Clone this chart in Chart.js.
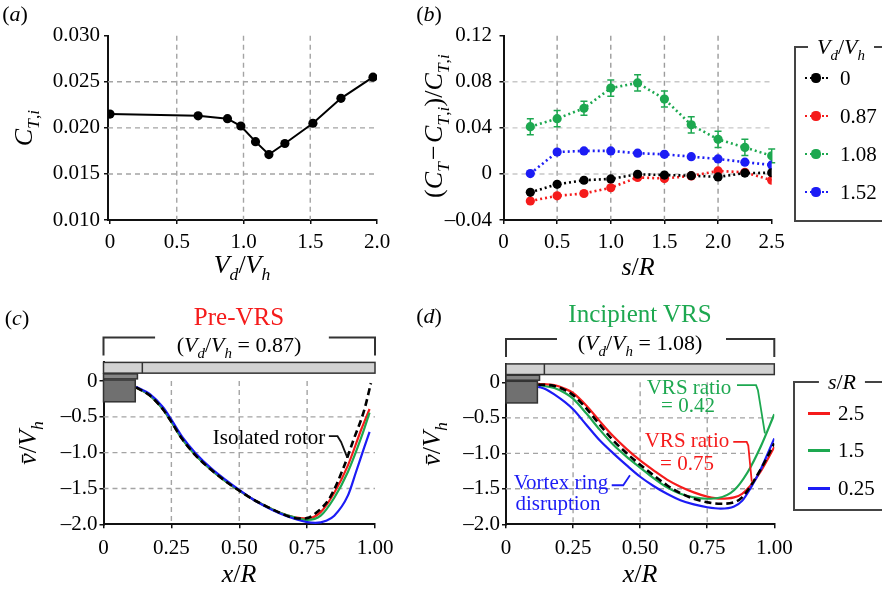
<!DOCTYPE html>
<html><head><meta charset="utf-8">
<script src="https://cdn.jsdelivr.net/npm/chart.js@4.4.1/dist/chart.umd.min.js"></script>
<style>
html,body{margin:0;padding:0;background:#fff;width:882px;height:591px;overflow:hidden;}
body{position:relative;font-family:"Liberation Serif","Times New Roman",serif;color:#000;}
canvas{position:absolute;left:0;top:0;}
.t{position:absolute;white-space:nowrap;transform:translate(-50%,-50%);line-height:1;}
.rot{transform:translate(-50%,-50%) rotate(-90deg);}
.l{position:absolute;white-space:nowrap;transform:translate(0,-50%);line-height:1;}
i{font-style:italic}
sub{font-size:0.68em;vertical-align:-0.38em;line-height:0}
.box{position:absolute;border:2px solid #444;border-right:none;width:200px;}
.lt{position:absolute;transform:translate(-50%,-50%);background:#fff;padding:0 9px;line-height:1;white-space:nowrap;}
</style></head>
<body>
<canvas id="ca" width="882" height="591"></canvas>
<canvas id="cb" width="882" height="591"></canvas>
<canvas id="cc" width="882" height="591"></canvas>
<canvas id="cd" width="882" height="591"></canvas>

<!-- panel labels -->
<div class="t" style="left:15px;top:14px;font-size:22px">(<i>a</i>)</div>
<div class="t" style="left:429px;top:14px;font-size:22px">(<i>b</i>)</div>
<div class="t" style="left:17px;top:318px;font-size:22px">(<i>c</i>)</div>
<div class="t" style="left:429px;top:316px;font-size:22px">(<i>d</i>)</div>

<!-- axis titles -->
<div class="t rot" style="left:24px;top:128px;font-size:26px"><i>C</i><sub><i>T</i>,<i>i</i></sub></div>
<div class="t" style="left:242px;top:265px;font-size:26px"><i>V</i><sub><i>d</i></sub>/<i>V</i><sub><i>h</i></sub></div>
<div class="t rot" style="left:434px;top:126px;font-size:26px">(<i>C</i><sub><i>T</i></sub>&#8202;&#8722;&#8202;<i>C</i><sub><i>T</i>,<i>i</i></sub>)/<i>C</i><sub><i>T</i>,<i>i</i></sub></div>
<div class="t" style="left:638px;top:267px;font-size:26px"><i>s</i>/<i>R</i></div>
<div class="t rot" style="left:28px;top:443px;font-size:26px"><i>v&#772;</i>/<i>V</i><sub><i>h</i></sub></div>
<div class="t" style="left:239px;top:574px;font-size:26px"><i>x</i>/<i>R</i></div>
<div class="t rot" style="left:432px;top:444px;font-size:26px"><i>v&#772;</i>/<i>V</i><sub><i>h</i></sub></div>
<div class="t" style="left:640px;top:574px;font-size:26px"><i>x</i>/<i>R</i></div>

<!-- panel headings -->
<div class="t" style="left:239px;top:316px;font-size:25px;color:#f51b1b">Pre-VRS</div>
<div class="t" style="left:239px;top:345px;font-size:22px">(<i>V</i><sub><i>d</i></sub>/<i>V</i><sub><i>h</i></sub> = 0.87)</div>
<div class="t" style="left:640px;top:313px;font-size:25px;color:#1da850">Incipient VRS</div>
<div class="t" style="left:640px;top:343px;font-size:22px">(<i>V</i><sub><i>d</i></sub>/<i>V</i><sub><i>h</i></sub> = 1.08)</div>

<!-- annotations -->
<div class="t" style="left:269px;top:437px;font-size:21px">Isolated rotor</div>
<div class="t" style="left:689px;top:387px;font-size:21px;color:#1da850">VRS ratio</div>
<div class="t" style="left:688px;top:405px;font-size:21px;color:#1da850">= 0.42</div>
<div class="t" style="left:687px;top:440px;font-size:21px;color:#f51b1b">VRS ratio</div>
<div class="t" style="left:687px;top:463px;font-size:21px;color:#f51b1b">= 0.75</div>
<div class="t" style="left:561px;top:482px;font-size:21px;color:#1c1cf5">Vortex ring</div>
<div class="t" style="left:558px;top:503px;font-size:21px;color:#1c1cf5">disruption</div>

<!-- legend b -->
<div class="box" style="left:794px;top:46px;height:172px"></div>
<div class="lt" style="left:841px;top:47px;font-size:22px"><i>V</i><sub><i>d</i></sub>/<i>V</i><sub><i>h</i></sub></div>
<div id="legB"></div>
<!-- legend d -->
<div class="box" style="left:793px;top:381px;height:126px"></div>
<div class="lt" style="left:842px;top:382px;font-size:22px"><i>s</i>/<i>R</i></div>
<div id="legD"></div>

<script>
// ---------------- data ----------------
// (a) isolated-rotor thrust coefficient vs descent ratio
const aSpeedRatio = [0, 0.66, 0.88, 0.98, 1.09, 1.19, 1.31, 1.52, 1.73, 1.97];
const aThrustCoef = [0.0215, 0.0213, 0.0210, 0.0202, 0.0185, 0.0171, 0.0183, 0.0205, 0.0232, 0.0255];
const aXTickVals = [0, 0.5, 1.0, 1.5, 2.0];
const aXTickLabels = ['0', '0.5', '1.0', '1.5', '2.0'];
const aYTickVals = [0.010, 0.015, 0.020, 0.025, 0.030];
const aYTickLabels = ['0.010', '0.015', '0.020', '0.025', '0.030'];

// (b) thrust change vs separation
const bSpacing = [0.25, 0.5, 0.75, 1.0, 1.25, 1.5, 1.75, 2.0, 2.25, 2.5];
const bSeriesNames = ['0', '0.87', '1.08', '1.52'];
const bRatio000 = [-0.016, -0.009, -0.0055, -0.0043, -0.0003, -0.001, -0.0015, -0.0026, 0.0007, 0.001];
const bRatio087 = [-0.0235, -0.019, -0.017, -0.012, -0.003, -0.004, -0.0017, 0.0026, 0.0014, -0.0055];
const bRatio108 = [0.041, 0.048, 0.057, 0.0745, 0.079, 0.065, 0.0426, 0.030, 0.023, 0.0157];
const bErr108   = [0.007, 0.007, 0.006, 0.007, 0.007, 0.007, 0.007, 0.007, 0.007, 0.006];
const bRatio152 = [0.0003, 0.019, 0.020, 0.020, 0.018, 0.017, 0.015, 0.013, 0.0102, 0.0078];
const bXTickVals = [0, 0.5, 1.0, 1.5, 2.0, 2.5];
const bXTickLabels = ['0', '0.5', '1.0', '1.5', '2.0', '2.5'];
const bYTickVals = [-0.04, 0, 0.04, 0.08, 0.12];
const bYTickLabels = ['\u20130.04', '0', '0.04', '0.08', '0.12'];

// (c) Pre-VRS wake velocity profiles
const cRedX   = [0.12, 0.17, 0.22, 0.25, 0.29, 0.34, 0.40, 0.45, 0.50, 0.55, 0.60, 0.65, 0.70, 0.75, 0.80, 0.85, 0.90, 0.95, 0.98];
const cRedY   = [-0.09, -0.20, -0.40, -0.57, -0.81, -1.04, -1.25, -1.40, -1.53, -1.65, -1.75, -1.84, -1.90, -1.92, -1.83, -1.56, -1.18, -0.67, -0.39];
const cGreenX = [0.12, 0.17, 0.22, 0.25, 0.29, 0.34, 0.40, 0.45, 0.50, 0.55, 0.60, 0.65, 0.70, 0.75, 0.80, 0.85, 0.90, 0.95, 0.98];
const cGreenY = [-0.09, -0.20, -0.40, -0.57, -0.81, -1.04, -1.25, -1.40, -1.53, -1.65, -1.75, -1.84, -1.90, -1.94, -1.88, -1.63, -1.27, -0.78, -0.44];
const cBlueX  = [0.12, 0.17, 0.22, 0.25, 0.29, 0.34, 0.40, 0.45, 0.50, 0.55, 0.60, 0.65, 0.70, 0.75, 0.78, 0.82, 0.85, 0.90, 0.93, 0.96, 0.98];
const cBlueY  = [-0.08, -0.18, -0.37, -0.54, -0.78, -1.01, -1.23, -1.38, -1.52, -1.65, -1.76, -1.85, -1.92, -1.97, -1.98, -1.95, -1.88, -1.60, -1.27, -0.93, -0.71];
const cIsoX   = [0.12, 0.17, 0.22, 0.25, 0.29, 0.34, 0.40, 0.45, 0.50, 0.55, 0.60, 0.65, 0.70, 0.74, 0.78, 0.835, 0.885, 0.92, 0.96, 0.985];
const cIsoY   = [-0.09, -0.20, -0.40, -0.57, -0.81, -1.04, -1.25, -1.40, -1.53, -1.65, -1.75, -1.84, -1.91, -1.92, -1.85, -1.62, -1.20, -0.83, -0.41, -0.03];

// (d) Incipient VRS wake velocity profiles
const dRedX   = [0.12, 0.18, 0.22, 0.25, 0.30, 0.35, 0.40, 0.45, 0.50, 0.55, 0.60, 0.65, 0.70, 0.75, 0.80, 0.85, 0.88, 0.91, 0.95, 1.00];
const dRedY   = [-0.02, -0.04, -0.09, -0.15, -0.33, -0.55, -0.76, -0.94, -1.10, -1.24, -1.37, -1.47, -1.55, -1.61, -1.64, -1.62, -1.57, -1.46, -1.25, -0.91];
const dIsoX   = [0.12, 0.18, 0.22, 0.25, 0.30, 0.35, 0.40, 0.45, 0.50, 0.55, 0.60, 0.65, 0.70, 0.75, 0.80, 0.85, 0.88, 0.91, 0.95, 1.00];
const dIsoY   = [-0.03, -0.05, -0.11, -0.18, -0.37, -0.60, -0.82, -1.00, -1.16, -1.31, -1.45, -1.56, -1.64, -1.69, -1.71, -1.69, -1.62, -1.47, -1.22, -0.86];
const dGreenX = [0.12, 0.18, 0.22, 0.25, 0.30, 0.35, 0.40, 0.45, 0.50, 0.55, 0.60, 0.65, 0.70, 0.75, 0.79, 0.85, 0.90, 0.95, 1.00];
const dGreenY = [-0.04, -0.08, -0.15, -0.23, -0.44, -0.67, -0.88, -1.05, -1.20, -1.35, -1.48, -1.57, -1.62, -1.64, -1.63, -1.52, -1.27, -0.90, -0.45];
const dBlueX  = [0.12, 0.15, 0.18, 0.22, 0.25, 0.30, 0.35, 0.40, 0.45, 0.50, 0.55, 0.60, 0.65, 0.70, 0.75, 0.80, 0.85, 0.88, 0.91, 0.95, 1.00];
const dBlueY  = [-0.06, -0.10, -0.17, -0.28, -0.38, -0.60, -0.82, -1.00, -1.17, -1.33, -1.46, -1.57, -1.66, -1.72, -1.76, -1.78, -1.75, -1.67, -1.50, -1.22, -0.79];
const dSeriesNames = ['2.5', '1.5', '0.25'];

const cdXTickVals = [0, 0.25, 0.5, 0.75, 1.0];
const cdXTickLabels = ['0', '0.25', '0.50', '0.75', '1.00'];
const cdYTickVals = [-2.0, -1.5, -1.0, -0.5, 0];
const cdYTickLabels = ['\u20132.0', '\u20131.5', '\u20131.0', '\u20130.5', '0'];

// ---------------- styling ----------------
const FONT = '"Liberation Serif","Times New Roman",serif';
const RED = '#f51b1b', GREEN = '#1da850', BLUE = '#1c1cf5', BLACK = '#000';
const W = 882, H = 591, YW = 60, XH = 40;
Chart.defaults.font.family = FONT;

function axis(min, max, vals, labels, isY, pad) {
  return {
    type: 'linear', min: min, max: max,
    afterBuildTicks(s) { s.ticks = vals.map(v => ({ value: v })); },
    afterFit(s) { if (isY) s.width = YW; else s.height = XH; },
    ticks: { autoSkip: false, maxRotation: 0, minRotation: 0, padding: pad, color: '#000',
             font: { family: FONT, size: 21 }, callback: (v, i) => labels[i] },
    grid: { display: true, drawOnChartArea: false, drawTicks: true, tickLength: 4, tickWidth: 1.5,
            tickColor: '#111', color: '#111', lineWidth: 1.5 },
    border: { display: true, color: '#111', width: 2 }
  };
}

function gridPlugin(xs, ys, xColor, yColor, xFromY) {
  return { id: 'dgrid', beforeDatasetsDraw(chart) {
    const { ctx, chartArea: a, scales: { x, y } } = chart;
    ctx.save(); ctx.lineWidth = 1.4; ctx.setLineDash([5, 4]);
    xs.forEach(v => { const px = x.getPixelForValue(v);
      const top = xFromY === undefined ? a.top : y.getPixelForValue(xFromY);
      ctx.strokeStyle = xColor; ctx.beginPath(); ctx.moveTo(px, top); ctx.lineTo(px, a.bottom); ctx.stroke(); });
    ys.forEach(v => { const py = y.getPixelForValue(v);
      ctx.strokeStyle = yColor; ctx.beginPath(); ctx.moveTo(a.left, py); ctx.lineTo(a.right, py); ctx.stroke(); });
    ctx.restore();
  } };
}

const errorBarPlugin = { id: 'ebars', beforeDatasetsDraw(chart) {
  const { ctx, scales: { x, y } } = chart;
  chart.data.datasets.forEach(ds => {
    if (!ds.errorBars) return;
    ctx.save(); ctx.strokeStyle = ds.borderColor; ctx.lineWidth = 1.5; ctx.setLineDash([]);
    ds.data.forEach((p, i) => {
      const e = ds.errorBars[i], px = x.getPixelForValue(p.x);
      const y1 = y.getPixelForValue(p.y + e), y2 = y.getPixelForValue(p.y - e);
      ctx.beginPath(); ctx.moveTo(px, y1); ctx.lineTo(px, y2);
      ctx.moveTo(px - 3.5, y1); ctx.lineTo(px + 3.5, y1);
      ctx.moveTo(px - 3.5, y2); ctx.lineTo(px + 3.5, y2); ctx.stroke();
    });
    ctx.restore();
  });
} };

function sketchPlugin(leaders, gapFrom, gapTo) {
  return { id: 'sketch',
    afterDatasetsDraw(chart) {
      const { ctx, chartArea: a, scales: { x, y } } = chart;
      ctx.save(); ctx.setLineDash([]);
      // rotor / hub sketch
      ctx.lineWidth = 1.5; ctx.strokeStyle = '#333';
      const x0 = a.left, x1 = a.right;
      ctx.fillStyle = '#d2d2d2';
      ctx.fillRect(x0, y.getPixelForValue(0.26), x1 - x0, y.getPixelForValue(0.11) - y.getPixelForValue(0.26));
      ctx.strokeRect(x0, y.getPixelForValue(0.26), x1 - x0, y.getPixelForValue(0.11) - y.getPixelForValue(0.26));
      ctx.beginPath(); ctx.moveTo(x.getPixelForValue(0.143), y.getPixelForValue(0.26)); ctx.lineTo(x.getPixelForValue(0.143), y.getPixelForValue(0.11)); ctx.stroke();
      ctx.fillStyle = '#858585';
      const tb = [x0, y.getPixelForValue(0.10), x.getPixelForValue(0.125) - x0, y.getPixelForValue(0.03) - y.getPixelForValue(0.10)];
      ctx.fillRect(...tb); ctx.strokeRect(...tb);
      ctx.fillStyle = '#707070';
      const bx = [x0, y.getPixelForValue(0.015), x.getPixelForValue(0.117) - x0, y.getPixelForValue(-0.29) - y.getPixelForValue(0.015)];
      ctx.fillRect(...bx); ctx.strokeRect(...bx);
      // leader lines
      ctx.lineWidth = 1.8;
      leaders.forEach(l => {
        ctx.strokeStyle = l.color; ctx.beginPath();
        l.pts.forEach((p, i) => { const px = x.getPixelForValue(p[0]), py = y.getPixelForValue(p[1]); if (i) ctx.lineTo(px, py); else ctx.moveTo(px, py); });
        ctx.stroke();
      });
      // bracket above the panel
      ctx.strokeStyle = '#333'; ctx.lineWidth = 2;
      const bt = a.top - 25, bb = a.top - 7;
      ctx.beginPath();
      ctx.moveTo(x0, bb); ctx.lineTo(x0, bt); ctx.lineTo(x.getPixelForValue(gapFrom), bt);
      ctx.moveTo(x.getPixelForValue(gapTo), bt); ctx.lineTo(x1, bt); ctx.lineTo(x1, bb);
      ctx.stroke();
      ctx.restore();
    } };
}

function layout(area) {
  return { padding: { left: area.l - YW, right: W - area.r, top: area.t, bottom: H - area.b - XH } };
}

function build(id, area, datasets, xAxis, yAxis, plugins) {
  return new Chart(document.getElementById(id), {
    type: 'scatter',
    data: { datasets: datasets },
    options: {
      responsive: false, animation: false, devicePixelRatio: 1, events: [],
      layout: layout(area),
      scales: { x: xAxis, y: yAxis },
      plugins: { legend: { display: false }, tooltip: { enabled: false } }
    },
    plugins: plugins
  });
}

function pts(xs, ys) { return xs.map((v, i) => ({ x: v, y: ys[i] })); }
function markerSeries(xs, ys, color, dotted) {
  return { data: pts(xs, ys), showLine: true, borderColor: color, backgroundColor: color,
           borderWidth: dotted ? 2.6 : 2, borderDash: dotted ? [2, 3] : [], pointRadius: 4.6,
           pointBorderWidth: 0, pointBackgroundColor: color, tension: 0 };
}
function curve(xs, ys, color, dashed) {
  return { data: pts(xs, ys), showLine: true, borderColor: color, backgroundColor: color,
           borderWidth: dashed ? 2.6 : 2.2, borderDash: dashed ? [7, 4] : [], pointRadius: 0,
           cubicInterpolationMode: 'monotone' };
}

// (a)
build('ca', { l: 108, r: 377, t: 35.7, b: 220 },
  [markerSeries(aSpeedRatio, aThrustCoef, BLACK, false)],
  axis(-0.015, 2.0, aXTickVals, aXTickLabels, false, 6),
  axis(0.010, 0.030, aYTickVals, aYTickLabels, true, 4),
  [gridPlugin([0.5, 1.0, 1.5], [0.015, 0.020, 0.025], '#a4a4a4', '#a4a4a4')]);

// (b)
const bColors = [BLACK, RED, GREEN, BLUE];
const bGreen = markerSeries(bSpacing, bRatio108, GREEN, true); bGreen.errorBars = bErr108;
build('cb', { l: 503.5, r: 771.7, t: 35.7, b: 220 },
  [markerSeries(bSpacing, bRatio000, BLACK, true), markerSeries(bSpacing, bRatio087, RED, true),
   bGreen, markerSeries(bSpacing, bRatio152, BLUE, true)],
  axis(0, 2.5, bXTickVals, bXTickLabels, false, 6),
  axis(-0.04, 0.12, bYTickVals, bYTickLabels, true, 7.5),
  [gridPlugin([0.5, 1.0, 1.5, 2.0], [0, 0.04, 0.08], '#9c9c9c', '#c8c8c8'), errorBarPlugin]);

// (c)
build('cc', { l: 103.5, r: 375, t: 362.4, b: 524.3 },
  [curve(cIsoX, cIsoY, BLACK, true), curve(cBlueX, cBlueY, BLUE), curve(cGreenX, cGreenY, GREEN), curve(cRedX, cRedY, RED)],
  axis(0, 1.0, cdXTickVals, cdXTickLabels, false, 8),
  axis(-2.0, 0.26, cdYTickVals, cdYTickLabels, true, 2),
  [gridPlugin([0.25, 0.5, 0.75], [-0.5, -1.0, -1.5], '#a4a4a4', '#a4a4a4', 0),
   sketchPlugin([{ color: '#111', pts: [[0.83, -0.77], [0.862, -0.77], [0.875, -0.85], [0.898, -1.07]] }], 0.19, 0.83)]);

// (d)
build('cd', { l: 506, r: 774.3, t: 363.9, b: 524.3 },
  [curve(dIsoX, dIsoY, BLACK, true), curve(dBlueX, dBlueY, BLUE), curve(dGreenX, dGreenY, GREEN), curve(dRedX, dRedY, RED)],
  axis(0, 1.0, cdXTickVals, cdXTickLabels, false, 8),
  axis(-2.0, 0.26, cdYTickVals, cdYTickLabels, true, 2),
  [gridPlugin([0.25, 0.5, 0.75], [-0.5, -1.0, -1.5], '#a4a4a4', '#a4a4a4', 0),
   sketchPlugin([
     { color: GREEN, pts: [[0.861, -0.04], [0.932, -0.04], [0.939, -0.11], [0.965, -0.72]] },
     { color: RED, pts: [[0.847, -0.84], [0.897, -0.84], [0.903, -0.89], [0.916, -1.40]] },
     { color: BLUE, pts: [[0.394, -1.45], [0.437, -1.45], [0.462, -1.31]] }
   ], 0.19, 0.82)]);

// ---------------- legends (HTML) ----------------
const legB = document.getElementById('legB');
const legBY = [78, 116, 154, 192];
bSeriesNames.forEach((name, i) => {
  const c = bColors[i];
  legB.insertAdjacentHTML('beforeend',
    `<div style="position:absolute;left:805px;top:${legBY[i] - 1.3}px;width:23px;border-top:2.6px dotted ${c}"></div>` +
    `<div style="position:absolute;left:${816 - 4.6}px;top:${legBY[i] - 4.6}px;width:9.2px;height:9.2px;border-radius:50%;background:${c}"></div>` +
    `<div class="l" style="left:840px;top:${legBY[i]}px;font-size:21px">${name}</div>`);
});
const legD = document.getElementById('legD');
const legDY = [413, 450, 488];
const dColors = [RED, GREEN, BLUE];
dSeriesNames.forEach((name, i) => {
  legD.insertAdjacentHTML('beforeend',
    `<div style="position:absolute;left:808px;top:${legDY[i] - 1.5}px;width:22px;height:3px;background:${dColors[i]}"></div>` +
    `<div class="l" style="left:838px;top:${legDY[i]}px;font-size:21px">${name}</div>`);
});
</script>
</body></html>
